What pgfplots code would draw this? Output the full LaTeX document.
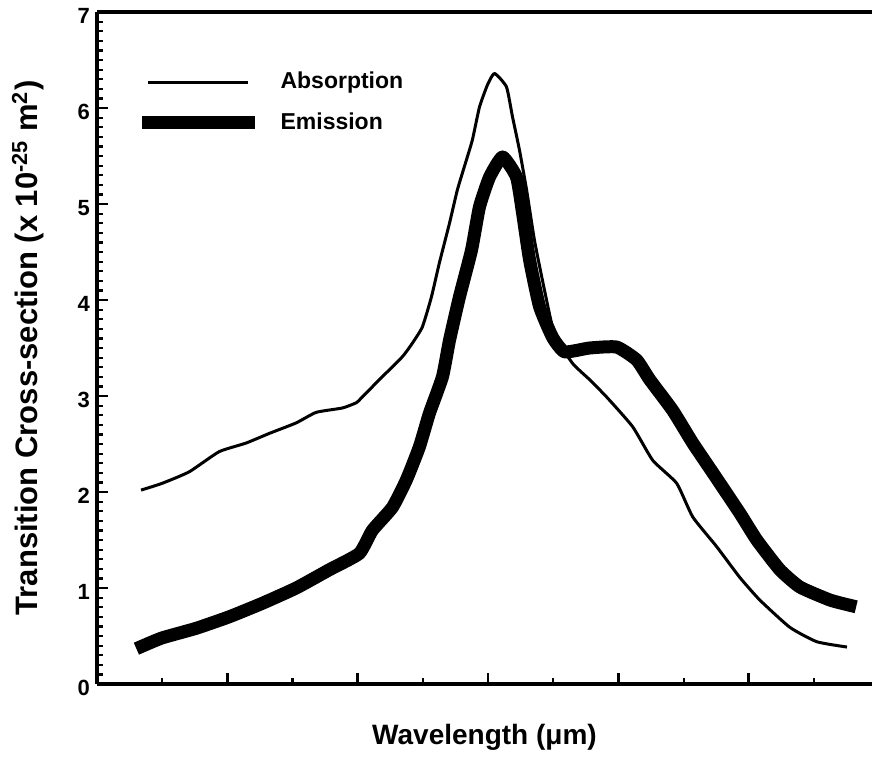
\documentclass[border=0pt]{standalone}
\usepackage{fontspec}
\setmainfont{Liberation Sans}
\usepackage{pgfplots}
\pgfplotsset{compat=1.18}
\begin{document}
\begin{tikzpicture}
\useasboundingbox (-48.5pt,-41pt) rectangle (387.5pt,342pt);
\begin{axis}[
  scale only axis,
  width=387.5pt, height=336pt,
  xmin=0, xmax=5.945, ymin=0, ymax=7,
  axis lines=left,
  axis line style={line width=1.6pt,-},
  x axis line style={-}, y axis line style={-},
  xtick pos=bottom, ytick pos=left,
  tick align=inside,
  xtick={1,2,3,4,5}, xticklabels={},
  minor xtick={0.5,1.5,2.5,3.5,4.5,5.5},
  ytick={0,1,2,3,4,5,6,7},
  minor y tick num=9,
  major tick length=5.5pt, minor tick length=3pt,
  every major tick/.append style={line width=1.4pt, black},
  every minor tick/.append style={line width=1.1pt, black},
  /pgf/number format/assume math mode=true,
  yticklabel style={font=\fontsize{11}{13}\selectfont\bfseries, yshift=-2pt},
  xlabel={Wavelength (μm)},
  ylabel={Transition Cross-section (x 10\textsuperscript{-25} m\textsuperscript{2})},
  xlabel style={font=\fontsize{14}{16}\selectfont\bfseries, at={(axis description cs:0.5,-0.079)}, anchor=center},
  ylabel style={font=\fontsize{15.5}{18}\selectfont\bfseries, at={(axis description cs:-0.089,0.5)}, anchor=center},
  legend style={draw=none, fill=none, at={(axis description cs:0.057,0.914)}, anchor=north west,
    font=\fontsize{11.5}{13}\selectfont\bfseries, inner sep=0pt, row sep=8.5pt,
    nodes={inner sep=1pt}, column sep=12pt},
  legend cell align=left,
  legend image code/.code={\draw[#1] (0pt,0pt) -- (50pt,0pt);},
  line join=round,
  clip=false,
]
\draw[line width=1.6pt] (rel axis cs:0,1) -- (rel axis cs:1,1);
\addplot[black, line width=1.5pt, smooth, tension=0.3] coordinates {
(0.338,2.02) (0.499,2.09) (0.707,2.21) (0.937,2.42) (1.144,2.51) (1.321,2.61)
(1.528,2.72) (1.682,2.83) (1.882,2.875) (1.989,2.93) (2.035,2.99) (2.166,3.17)
(2.343,3.41) (2.419,3.55) (2.496,3.72) (2.565,4.03) (2.627,4.39) (2.704,4.80)
(2.765,5.15) (2.834,5.46) (2.880,5.67) (2.934,6.01) (2.995,6.24) (3.049,6.36)
(3.141,6.22) (3.187,5.91) (3.241,5.56) (3.295,5.15) (3.356,4.62) (3.433,4.10)
(3.510,3.64) (3.648,3.34) (3.779,3.17) (3.909,2.99) (4.109,2.68) (4.263,2.33)
(4.447,2.09) (4.570,1.74) (4.754,1.43) (4.931,1.11) (5.084,0.875) (5.315,0.59)
(5.522,0.44) (5.753,0.385)
};
\addlegendentry{Absorption}
\addplot[black, line width=6.5pt, line cap=rect, smooth, tension=0.3] coordinates {
(0.348,0.395) (0.499,0.48) (0.760,0.58) (1.014,0.70) (1.267,0.84) (1.528,1.00)
(1.782,1.19) (2.012,1.36) (2.112,1.60) (2.266,1.84) (2.373,2.125) (2.473,2.47)
(2.550,2.82) (2.650,3.20) (2.704,3.58) (2.780,4.03) (2.873,4.52) (2.934,4.97)
(3.011,5.28) (3.111,5.49) (3.218,5.28) (3.264,4.91) (3.318,4.42) (3.395,3.93)
(3.495,3.61) (3.587,3.46) (3.779,3.50) (3.986,3.51) (4.140,3.375) (4.240,3.17)
(4.416,2.85) (4.570,2.51) (4.724,2.20) (4.931,1.78) (5.061,1.50) (5.238,1.19)
(5.392,1.01) (5.622,0.875) (5.775,0.82)
};
\addlegendentry{Emission}
\end{axis}
\end{tikzpicture}
\end{document}
